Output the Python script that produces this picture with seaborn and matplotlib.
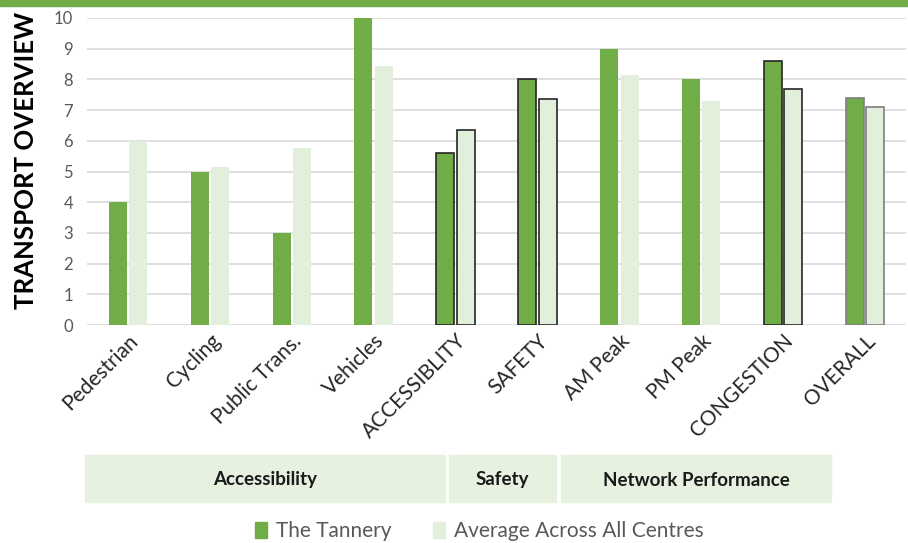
import numpy as np
import pandas as pd
import seaborn as sns
import matplotlib.pyplot as plt
from matplotlib.patches import Rectangle

categories = ["Pedestrian", "Cycling", "Public Trans.", "Vehicles", "ACCESSIBLITY",
              "SAFETY", "AM Peak", "PM Peak", "CONGESTION", "OVERALL"]
tannery = [4.0, 5.0, 3.0, 10.0, 5.6, 8.0, 9.0, 8.0, 8.6, 7.4]
average = [6.0, 5.15, 5.75, 8.45, 6.35, 7.35, 8.15, 7.3, 7.7, 7.1]
series_names = ["The Tannery", "Average Across All Centres"]
outlined = ["ACCESSIBLITY", "SAFETY", "CONGESTION", "OVERALL"]
groups = ["Accessibility", "Safety", "Network Performance"]

df = pd.DataFrame({
    "category": categories * 2,
    "value": tannery + average,
    "series": [series_names[0]] * len(categories) + [series_names[1]] * len(categories),
})

sns.set_style("white")
plt.rcParams["font.family"] = ["Lato", "DejaVu Sans"]

GREEN = "#70AD47"
LIGHT = "#E2EFDA"

fig = plt.figure(figsize=(9.08, 5.43), dpi=100)
ax = fig.add_axes([87 / 908, 1 - 325 / 543, 819 / 908, (325 - 18) / 543])

sns.barplot(data=df, x="category", y="value", hue="series", order=categories,
            hue_order=series_names, palette=[GREEN, LIGHT], width=0.5, gap=0.12,
            saturation=1, linewidth=0, ax=ax)

# outline the summary bars
for p in ax.patches:
    if p.get_width() == 0:
        continue
    idx = int(round(p.get_x() + p.get_width() / 2))
    if 0 <= idx < len(categories) and categories[idx] in outlined:
        ec = "#7f7f7f" if categories[idx] == "OVERALL" else "#262626"
        p.set_edgecolor(ec)
        p.set_linewidth(1.2)

ax.set_ylim(0, 10)
ax.set_xlim(-0.5, len(categories) - 0.5)
ax.set_yticks(range(0, 11))
ax.yaxis.grid(True, color="#D9D9D9", linewidth=1.2)
ax.set_axisbelow(True)
for s in ax.spines.values():
    s.set_visible(False)
ax.tick_params(axis="y", length=0, labelsize=12, labelcolor="#595959", pad=10)
ax.tick_params(axis="x", length=0, labelsize=15, pad=4)
plt.setp(ax.get_xticklabels(), rotation=45, ha="right", rotation_mode="anchor")
ax.set_xlabel("")
ax.set_ylabel("TRANSPORT OVERVIEW", fontsize=18.5, fontweight="bold", color="black")
ax.yaxis.set_label_coords(-0.06, 0.535)
ax.get_legend().remove()

# top band
fig.patches.append(Rectangle((0, 1 - 6 / 543), 1, 6 / 543, transform=fig.transFigure,
                             color=GREEN, zorder=0))

# group boxes below the axis
boxes = [(85, 445), (449, 556), (561, 831)]
for name, (x0, x1) in zip(groups, boxes):
    fig.patches.append(Rectangle((x0 / 908, 1 - 502 / 543), (x1 - x0) / 908, 47 / 543,
                                 transform=fig.transFigure, color="#E6F1DF", zorder=0))
    fig.text((x0 + x1) / 2 / 908, 1 - 480 / 543, name, ha="center", va="center",
             fontsize=13.5, fontweight="bold", color="#1a1a1a")

handles = [Rectangle((0, 0), 1, 1, color=GREEN), Rectangle((0, 0), 1, 1, color=LIGHT)]
fig.legend(handles, series_names, loc="center", bbox_to_anchor=(479 / 908, 1 - 531 / 543),
           ncol=2, frameon=False, fontsize=15, labelcolor="#595959", handlelength=0.6,
           handleheight=0.8, handletextpad=0.4, columnspacing=2.0)

fig.savefig("out.png", dpi=100)
